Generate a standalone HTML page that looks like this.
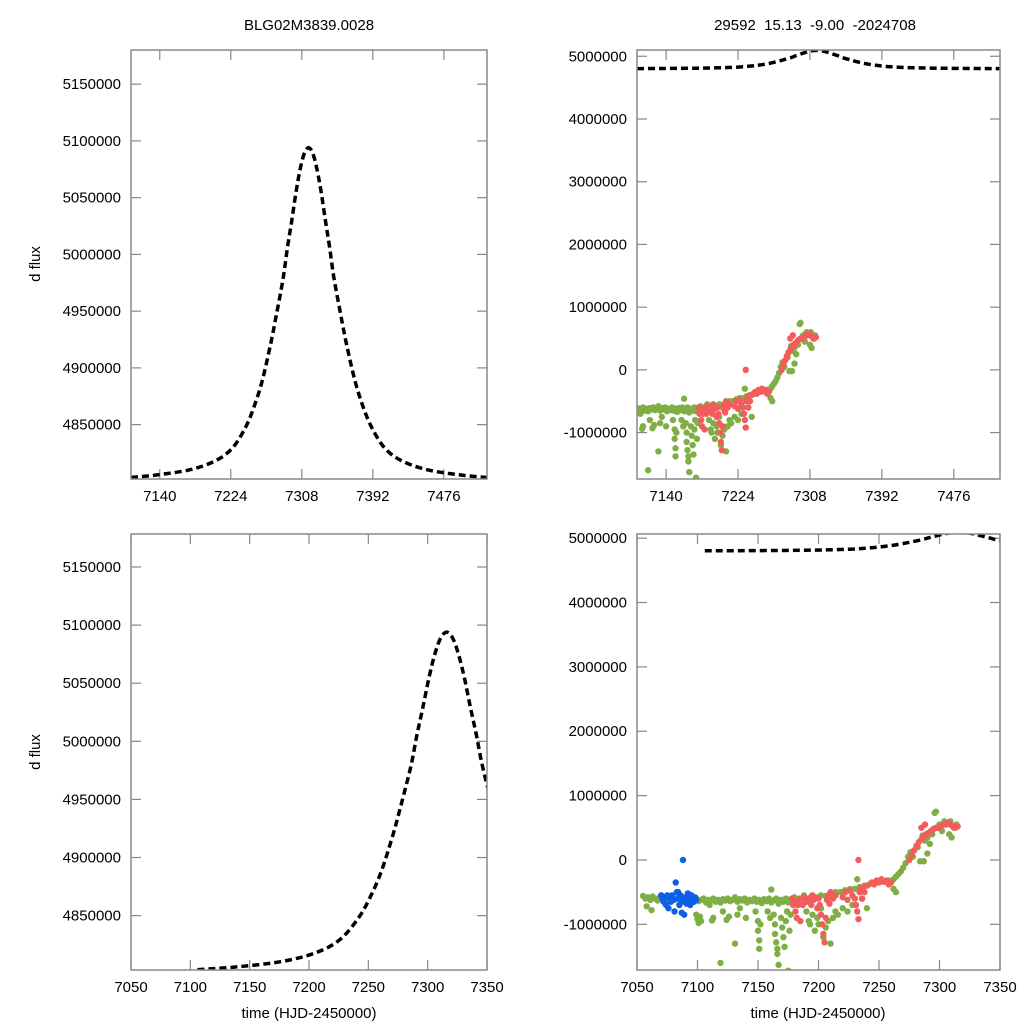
<!DOCTYPE html>
<html><head><meta charset="utf-8"><style>
html,body{margin:0;padding:0;background:#fff;}
svg{display:block;font-family:"Liberation Sans",sans-serif;}
</style></head><body>
<svg id="chart" width="1024" height="1024" viewBox="0 0 1024 1024" xmlns="http://www.w3.org/2000/svg">
<rect width="1024" height="1024" fill="#fff"/>
<text x="309" y="30" font-size="15" text-anchor="middle">BLG02M3839.0028</text>
<text x="815" y="30" font-size="15" text-anchor="middle" xml:space="preserve">29592  15.13  -9.00  -2024708</text>
<text transform="translate(40,264) rotate(-90)" font-size="15" text-anchor="middle">d flux</text>
<text transform="translate(40,752) rotate(-90)" font-size="15" text-anchor="middle">d flux</text>
<text x="309" y="1018" font-size="15" text-anchor="middle">time (HJD-2450000)</text>
<text x="818" y="1018" font-size="15" text-anchor="middle">time (HJD-2450000)</text>
<g id="layer"></g>
</svg>
<script>
// model curve samples (time, flux)
const curveT = [7106,7136,7176,7206,7226,7241,7251,7261,7271,7278,7286,7291,7296,7301,7306,7311,7316,7321,7326,7331,7336,7341,7346,7354,7361,7371,7381,7391,7406,7426,7456,7496,7530];
const curveF = [4803500,4805600,4810300,4818200,4829400,4847000,4864700,4888200,4920500,4947000,4979300,5005800,5029300,5054300,5074900,5089000,5094000,5089000,5074900,5054300,5029300,5005800,4979300,4947000,4920500,4888200,4864700,4847000,4829400,4818200,4810300,4805600,4803300];
// axis tick labels
const topXTicks = [7140,7224,7308,7392,7476];
const topLeftYTicks = [4850000,4900000,4950000,5000000,5050000,5100000,5150000];
const rightYTicks = [-1000000,0,1000000,2000000,3000000,4000000,5000000];
const bottomXTicks = [7050,7100,7150,7200,7250,7300,7350];
const bottomLeftYTicks = [4850000,4900000,4950000,5000000,5050000,5100000,5150000];
// observations [time, flux in millions]
const greenPts = [[7055,-0.56],[7057,-0.6],[7059,-0.58],[7061,-0.62],[7063,-0.57],[7065,-0.6],[7067,-0.63],[7069,-0.58],[7071,-0.61],[7073,-0.59],
[7075,-0.64],[7077,-0.6],[7079,-0.57],[7081,-0.62],[7083,-0.6],[7085,-0.58],[7087,-0.63],[7089,-0.6],[7091,-0.59],[7093,-0.62],
[7095,-0.57],[7097,-0.61],[7099,-0.6],[7101,-0.64],[7103,-0.62],[7105,-0.6],[7107,-0.66],[7109,-0.62],[7111,-0.63],[7113,-0.6],
[7115,-0.65],[7117,-0.62],[7119,-0.66],[7121,-0.61],[7123,-0.63],[7125,-0.6],[7127,-0.64],[7129,-0.62],[7131,-0.58],[7133,-0.65],
[7135,-0.61],[7137,-0.63],[7139,-0.6],[7141,-0.66],[7143,-0.62],[7145,-0.64],[7147,-0.6],[7149,-0.65],[7151,-0.62],[7153,-0.67],
[7155,-0.61],[7157,-0.64],[7159,-0.6],[7161,-0.66],[7163,-0.63],[7165,-0.6],[7167,-0.68],[7169,-0.62],[7171,-0.65],[7173,-0.6],
[7175,-0.66],[7177,-0.63],[7179,-0.61],
[7058,-0.72],[7062,-0.78],[7099,-0.85],[7100,-0.92],[7101,-0.98],[7102,-0.88],[7103,-0.95],[7110,-0.7],[7112,-0.94],[7113,-0.9],
[7119,-1.6],[7121,-0.8],[7124,-0.93],[7126,-0.88],[7131,-1.3],[7133,-0.85],[7135,-0.75],[7140,-0.9],[7148,-0.8],[7150,-0.95],
[7150,-1.1],[7151,-1.25],[7151,-1.38],[7152,-1.0],[7158,-0.8],[7160,-0.9],[7161,-0.46],[7163,-0.85],[7164,-1.0],[7164,-1.15],
[7165,-1.28],[7166,-1.38],[7166,-1.46],[7167,-1.63],[7169,-0.9],[7170,-1.05],[7171,-1.2],[7172,-1.35],[7173,-0.95],[7174,-0.8],
[7175,-1.72],[7176,-1.1],[7177,-0.85],
[7180,-0.58],[7184,-0.6],[7188,-0.55],[7192,-0.62],[7194,-0.57],[7198,-0.58],[7202,-0.55],[7206,-0.56],[7210,-0.53],[7214,-0.5],
[7218,-0.5],[7222,-0.47],[7226,-0.45],[7230,-0.45],[7234,-0.42],[7238,-0.4],[7242,-0.38],[7246,-0.36],[7250,-0.34],[7254,-0.33],
[7258,-0.32],[7262,-0.3],[7264,-0.26],[7266,-0.22],[7268,-0.18],[7270,-0.12],[7272,-0.05],[7274,0.05],[7276,0.12],
[7190,-0.8],[7192,-0.95],[7193,-1.0],[7195,-0.85],[7197,-1.1],[7199,-0.9],[7200,-1.0],[7202,-0.75],[7204,-1.2],[7206,-1.05],
[7208,-0.95],[7210,-1.3],[7212,-0.9],[7214,-0.8],[7216,-0.85],[7220,-0.75],[7224,-0.8],[7228,-0.7],[7232,-0.3],[7236,-0.6],
[7240,-0.75],[7262,-0.45],[7264,-0.5],
[7278,0.05],[7282,0.2],[7284,-0.02],[7287,-0.02],[7288,0.3],[7290,0.35],[7292,0.25],[7294,0.4],[7296,0.73],[7297,0.75],
[7298,0.5],[7300,0.55],[7302,0.45],[7304,0.6],[7306,0.58],[7308,0.4],[7310,0.35],[7312,0.5],[7314,0.55],[7290,0.1],[7286,0.38],[7309,0.6]];
const redPts = [[7178,-0.6],[7179,-0.7],[7180,-0.65],[7181,-0.8],[7182,-0.9],[7183,-0.7],[7184,-0.62],[7185,-0.95],[7186,-0.6],[7187,-0.7],
[7188,-0.58],[7190,-0.65],[7192,-0.6],[7194,-0.7],[7195,-0.55],[7196,-0.62],[7198,-0.6],[7199,-0.75],[7200,-0.6],[7201,-0.7],
[7202,-0.85],[7203,-1.0],[7204,-1.15],[7205,-1.28],[7206,-0.9],[7207,-0.62],[7208,-0.55],[7209,-0.68],[7210,-0.5],[7212,-0.6],
[7214,-0.55],[7220,-0.58],[7222,-0.5],[7224,-0.62],[7226,-0.48],[7228,-0.55],[7230,-0.6],[7231,-0.7],[7232,-0.8],[7233,-0.92],
[7233,0.0],[7234,-0.5],[7235,-0.45],[7236,-0.6],[7237,-0.42],[7238,-0.5],[7240,-0.4],[7244,-0.35],[7246,-0.38],[7248,-0.32],
[7250,-0.35],[7252,-0.3],[7254,-0.34],[7256,-0.32],[7258,-0.38],[7260,-0.35],[7275,0.0],[7277,0.08],[7279,0.15],[7281,0.22],
[7283,0.28],[7285,0.32],[7285,0.5],[7287,0.36],[7289,0.4],[7291,0.42],[7293,0.45],[7295,0.48],[7297,0.5],[7299,0.5],
[7301,0.52],[7303,0.55],[7305,0.55],[7307,0.58],[7309,0.55],[7311,0.52],[7313,0.5],[7315,0.52],[7288,0.55]];
const bluePts = [[7070,-0.55],[7071,-0.6],[7072,-0.65],[7073,-0.58],[7074,-0.7],[7075,-0.55],[7076,-0.75],[7077,-0.6],[7078,-0.65],[7079,-0.55],
[7080,-0.62],[7081,-0.8],[7082,-0.35],[7083,-0.5],[7084,-0.6],[7085,-0.7],[7086,-0.55],[7087,-0.65],[7088,0.0],[7088,-0.6],
[7089,-0.85],[7090,-0.58],[7091,-0.68],[7092,-0.52],[7093,-0.62],[7094,-0.7],[7095,-0.55],[7096,-0.6],[7097,-0.65],[7098,-0.58],
[7099,-0.62],[7087,-0.82],[7084,-0.5]];

const NS = 'http://www.w3.org/2000/svg';
const layer = document.getElementById('layer');
function lin(d0,d1,r0,r1){ return v => r0 + (v-d0)*(r1-r0)/(d1-d0); }
function mk(tag, attrs, parent){ const e=document.createElementNS(NS,tag); for(const k in attrs) e.setAttribute(k,attrs[k]); (parent||layer).appendChild(e); return e; }

const panels = [
 {name:'top-left', x0:131,x1:487,y0:50,y1:479, xs:lin(7106,7527,131,487), ys:lin(4802100,5180100,479,50), xt:topXTicks, yt:topLeftYTicks, pts:false},
 {name:'top-right', x0:637,x1:1000,y0:50,y1:479, xs:lin(7106,7530,637,1000), ys:lin(-1740000,5100000,479,50), xt:topXTicks, yt:rightYTicks, pts:true},
 {name:'bottom-left', x0:131,x1:487,y0:534,y1:970, xs:lin(7050,7350,131,487), ys:lin(4803200,5178400,970,534), xt:bottomXTicks, yt:bottomLeftYTicks, pts:false},
 {name:'bottom-right', x0:637,x1:1000,y0:534,y1:970, xs:lin(7050,7350,637,1000), ys:lin(-1710000,5065000,970,534), xt:bottomXTicks, yt:rightYTicks, pts:true}
];

panels.forEach(p => {
  const g = mk('g',{});
  
  
  const clipId = 'clip-'+p.name;
  const cp = mk('clipPath',{id:clipId}, g);
  mk('rect',{x:p.x0,y:p.y0,width:p.x1-p.x0,height:p.y1-p.y0}, cp);
  p.xt.forEach(v => {
    const x = p.xs(v);
    const t1 = mk('line',{x1:x,x2:x,y1:p.y1,y2:p.y1-10,stroke:'#888','stroke-width':1.2}, g);
    
    
    mk('line',{x1:x,x2:x,y1:p.y0,y2:p.y0+10,stroke:'#888','stroke-width':1.2}, g);
    const tx = mk('text',{x:x,y:p.y1+22,'font-size':15,'text-anchor':'middle'}, g);
    tx.textContent = v;
    
    
  });
  p.yt.forEach(v => {
    const y = p.ys(v);
    if (y < p.y0-1 || y > p.y1+1) return;
    const t1 = mk('line',{x1:p.x0,x2:p.x0+10,y1:y,y2:y,stroke:'#888','stroke-width':1.2}, g);
    
    
    mk('line',{x1:p.x1,x2:p.x1-10,y1:y,y2:y,stroke:'#888','stroke-width':1.2}, g);
    const tx = mk('text',{x:p.x0-10,y:y+5,'font-size':15,'text-anchor':'end'}, g);
    tx.textContent = v;
    
    
  });
  const plot = mk('g',{'clip-path':'url(#'+clipId+')'}, g);
  if (p.pts) {
    [[greenPts,'#7fae45','green-point'],[redPts,'#f25c5c','red-point'],[bluePts,'#0f5fe6','blue-point']].forEach(s => {
      s[0].forEach(d => {
        const c = mk('circle',{cx:p.xs(d[0]),cy:p.ys(d[1]*1e6),r:3.2,fill:s[1]}, plot);
        
        
      });
    });
  }
  // smooth path (Catmull-Rom) through curve samples
  const P = curveT.map((t,i) => [p.xs(t), p.ys(curveF[i])]);
  let d = 'M'+P[0][0].toFixed(1)+','+P[0][1].toFixed(1);
  for (let i=0;i<P.length-1;i++){
    const p0=P[Math.max(0,i-1)], p1=P[i], p2=P[i+1], p3=P[Math.min(P.length-1,i+2)];
    const c1=[p1[0]+(p2[0]-p0[0])/6, p1[1]+(p2[1]-p0[1])/6];
    const c2=[p2[0]-(p3[0]-p1[0])/6, p2[1]-(p3[1]-p1[1])/6];
    d += ' C'+c1[0].toFixed(1)+','+c1[1].toFixed(1)+' '+c2[0].toFixed(1)+','+c2[1].toFixed(1)+' '+p2[0].toFixed(1)+','+p2[1].toFixed(1);
  }
  const path = mk('path',{d:d,fill:'none',stroke:'#000','stroke-width':3.5,'stroke-dasharray':'7,4','stroke-linejoin':'round'}, plot);
  
  
  const fr = mk('rect',{x:p.x0,y:p.y0,width:p.x1-p.x0,height:p.y1-p.y0,fill:'none',stroke:'#888','stroke-width':1.5}, g);
  
  
});
</script>
</body></html>
